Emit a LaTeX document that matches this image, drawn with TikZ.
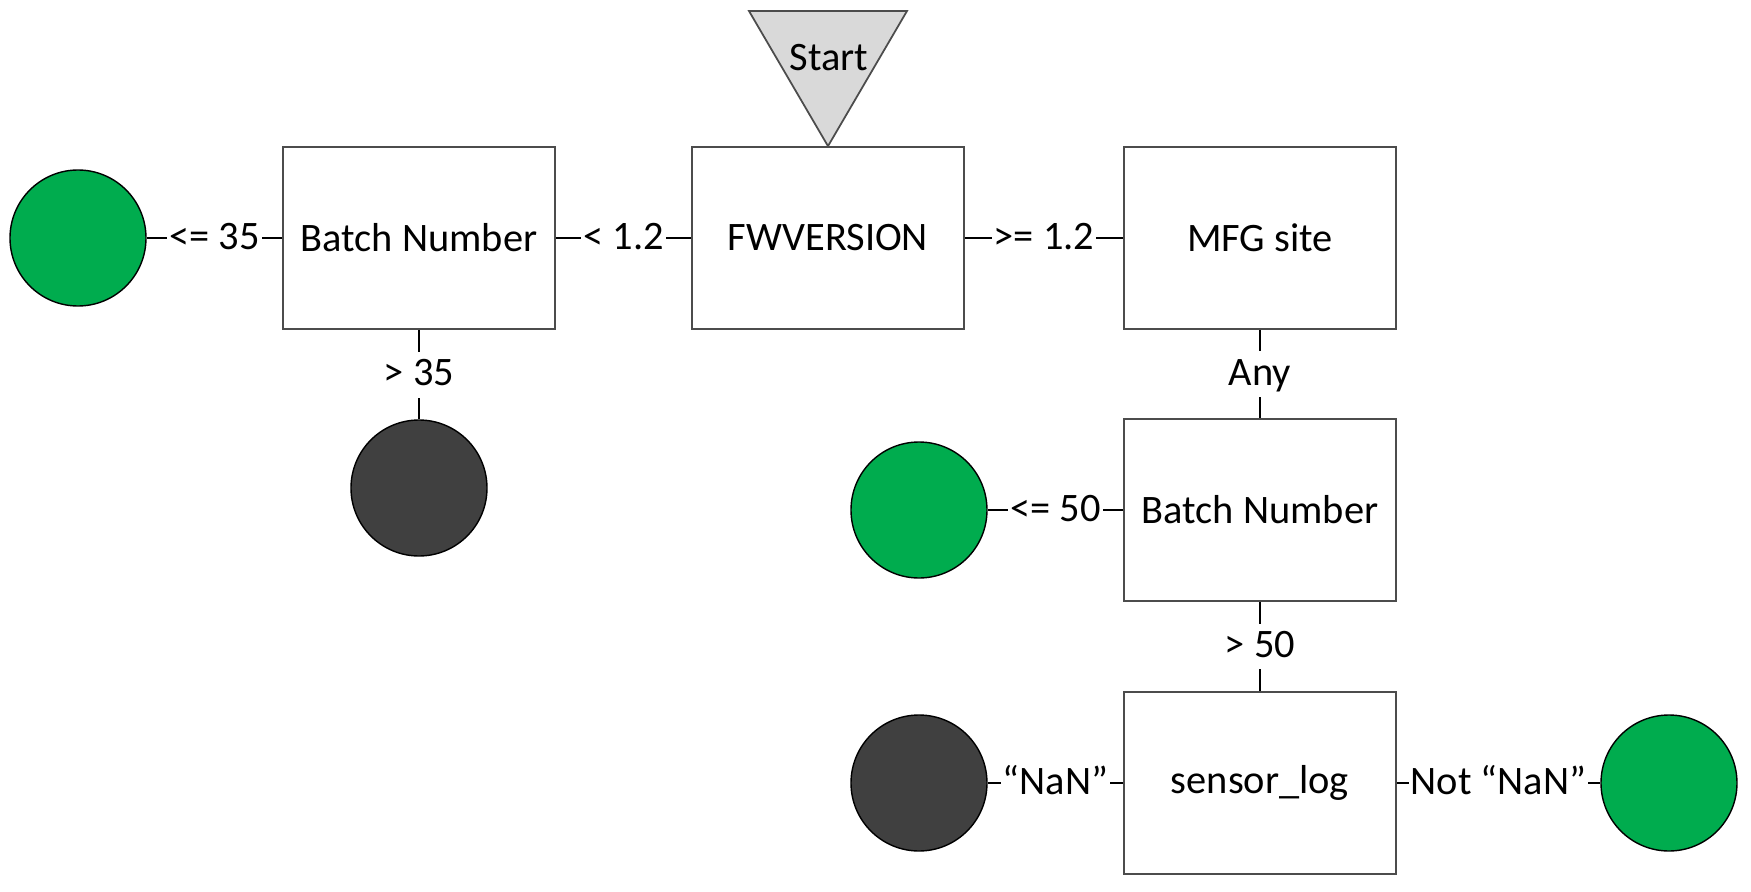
\documentclass[tikz,border=0pt]{standalone}
\usepackage{fontspec}
\setmainfont{Carlito}
\usetikzlibrary{positioning}
\definecolor{leafgreen}{RGB}{0,172,78}
\definecolor{leafdark}{RGB}{64,64,64}
\definecolor{startgray}{RGB}{217,217,217}

\begin{document}
\begin{tikzpicture}[
  x=1cm,
  y=1cm,
  font=\fontsize{11.5}{13}\selectfont,
  box/.style={draw=black!70, line width=0.5pt, minimum width=2.72cm, minimum height=1.82cm},
  leaf/.style={circle, draw=black, line width=0.4pt, minimum size=1.36cm, inner sep=0pt},
  goodleaf/.style={leaf, fill=leafgreen},
  badleaf/.style={leaf, fill=leafdark},
  link/.style={draw=black, line width=0.5pt},
  cond/.style={fill=white, inner xsep=0.6pt, inner ysep=3.3pt, text height=0.644em, text depth=0pt}
]
\useasboundingbox (0,0) rectangle (17.51,-8.92);

% decision boxes
\node[box] (fw)     at ( 8.28,-2.38) {FWVERSION};
\node[box] (batchL) at ( 4.19,-2.38) {Batch Number};
\node[box] (mfg)    at (12.60,-2.38) {MFG site};
\node[box] (batchR) at (12.60,-5.10) {Batch Number};
\node[box] (sensor) at (12.60,-7.83) {sensor\_log};

% start marker
\coordinate (startL) at (7.49,-0.11);
\coordinate (startR) at (9.07,-0.11);
\draw[fill=startgray, draw=black!70, line width=0.5pt] (startL) -- (startR) -- (fw.north) -- cycle;
\node (start) at (8.29,-0.58) {Start};

% leaves
\node[goodleaf] (leafA) at ( 0.78,-2.38) {};
\node[badleaf]  (leafB) at ( 4.19,-4.88) {};
\node[goodleaf] (leafC) at ( 9.19,-5.10) {};
\node[badleaf]  (leafD) at ( 9.19,-7.83) {};
\node[goodleaf] (leafE) at (16.69,-7.83) {};

% branches
\draw[link] (fw) -- node[cond] {< 1.2} (batchL);
\draw[link] (fw) -- node[cond] {>= 1.2} (mfg);
\draw[link] (batchL) -- node[cond] {<= 35} (leafA);
\draw[link] (batchL) -- node[cond] {> 35} (leafB);
\draw[link] (mfg) -- node[cond] {Any} (batchR);
\draw[link] (batchR) -- node[cond] {<= 50} (leafC);
\draw[link] (batchR) -- node[cond] {> 50} (sensor);
\draw[link] (sensor) -- node[cond] {“NaN”} (leafD);
\draw[link] (sensor) -- node[cond] {Not “NaN”} (leafE);

\end{tikzpicture}
\end{document}
